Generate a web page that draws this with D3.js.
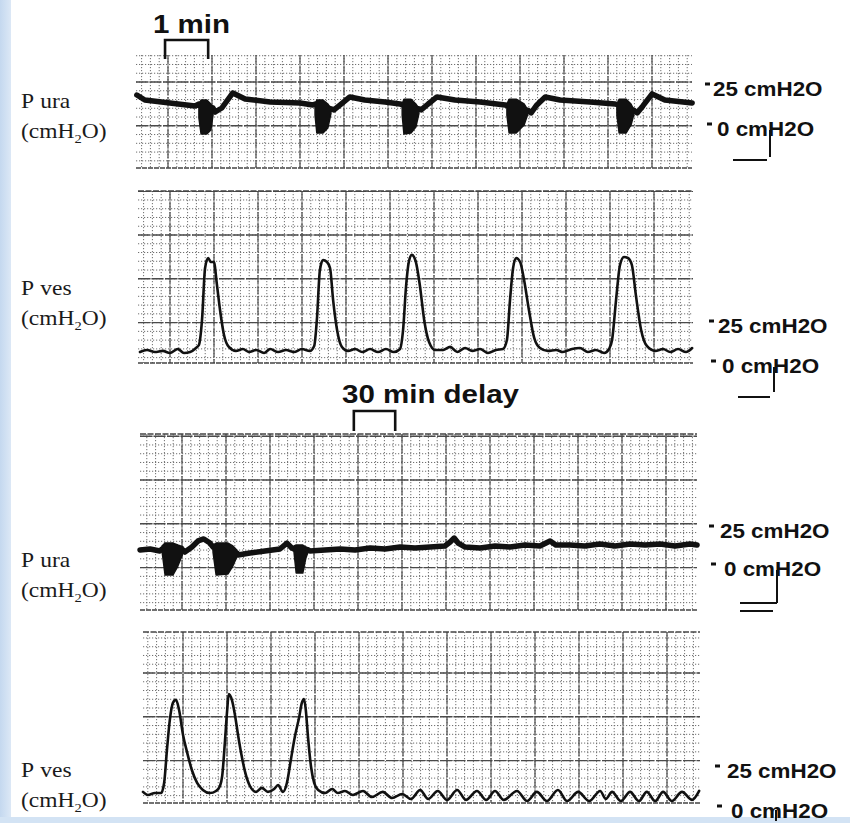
<!DOCTYPE html>
<html>
<head>
<meta charset="utf-8">
<script src="https://cdn.jsdelivr.net/npm/d3@7"></script>
<style>
  body { margin: 0; background: #fff; }
  svg { display: block; }
</style>
</head>
<body>
<svg id="chart" width="850" height="823"></svg>
<script>
// ---- traces: [minutes, cmH2O] ----
var uraTop = [[0.02,20.6],[0.20,17.5],[0.77,15.6],[1.34,13.8],[1.43,15],[1.75,12.5],[1.80,10],[1.95,12.5],
  [2.20,21.9],[2.48,18.1],[3.05,16.3],[3.73,15.6],[4.02,14.4],[4.09,15],[4.43,12],[4.50,11.3],[4.64,14.4],
  [4.86,19.4],[5.20,17.5],[5.66,16.3],[6.00,15],[6.43,12],[6.48,11.3],[6.64,15],[6.84,19.4],[7.25,17.5],
  [7.82,16.3],[8.39,14.4],[8.91,11],[8.98,9.4],[9.11,14.4],[9.30,19.4],[9.64,17.5],[10.32,16.3],[10.89,15],
  [11.32,11],[11.39,9.4],[11.52,13.8],[11.73,21.3],[12.02,17.5],[12.64,15.6]];

// noisy bursts on the urethral trace: [minutes, low, high]
var uraTopBursts = [
  [[1.43,6.3,15],[1.48,-3.8,17.5],[1.61,-3.8,17.5],[1.70,-1.3,15],[1.75,8.1,12.5]],
  [[4.07,8,14.4],[4.11,-3.1,17.5],[4.25,-3.1,17.5],[4.36,0,15],[4.43,9,12]],
  [[6.05,8,15],[6.09,-3.8,18],[6.25,-3.1,18],[6.36,0.6,15],[6.43,9,12]],
  [[8.43,8,15],[8.48,-3.1,18],[8.64,-3.1,18],[8.82,1.9,15],[8.91,9,11]],
  [[10.93,8,15],[10.98,-3.1,18],[11.14,-3.1,18],[11.25,1.9,15],[11.32,9,11]]
];

var vesTop = [[0.09,8.1],[0.25,9.4],[0.43,8.1],[0.61,8.8],[0.77,7.5],[0.95,10],[1.09,7.5],[1.23,8.1],
  [1.36,10.6],[1.43,12.5],[1.50,28],[1.57,60.6],[1.64,66.9],[1.70,64.4],[1.77,64.4],[1.84,50],[1.91,34.4],
  [2.00,18.8],[2.11,11.3],[2.27,8.8],[2.43,10],[2.57,8.1],[2.73,9.4],[2.91,7.5],[3.05,10],[3.23,8.1],
  [3.41,9.4],[3.59,8.1],[3.77,10],[3.95,8.8],[4.05,11.9],[4.11,28],[4.18,59.4],[4.25,65.6],[4.34,64.4],
  [4.41,60.6],[4.48,40.6],[4.57,21.9],[4.68,11.3],[4.82,8.8],[4.98,10],[5.14,8.1],[5.32,10],[5.50,8.1],
  [5.68,10],[5.86,8.1],[6.00,10],[6.07,21.9],[6.14,50],[6.20,64.4],[6.27,68.8],[6.36,64.4],[6.45,50],
  [6.55,28],[6.66,14.4],[6.80,9.4],[6.98,9.4],[7.14,11.3],[7.30,8.1],[7.48,10.6],[7.64,8.8],[7.82,10],
  [8.00,7.5],[8.18,9.4],[8.34,10],[8.43,15.6],[8.50,40.6],[8.57,60.6],[8.64,66.9],[8.73,64.4],[8.82,53.1],
  [8.93,34.4],[9.05,16.9],[9.18,10.6],[9.36,8.8],[9.55,9.4],[9.70,8.1],[9.91,10],[10.09,10.6],[10.27,8.1],
  [10.45,9.4],[10.64,7.5],[10.75,10],[10.82,15.6],[10.91,40.6],[11.00,62.5],[11.09,67.5],[11.18,66.9],
  [11.27,62.5],[11.36,43.8],[11.48,21.9],[11.61,11.9],[11.80,8.8],[11.98,10],[12.14,8.1],[12.32,10],
  [12.50,8.1],[12.64,10.6]];

var uraBottom = [[0,11.8],[0.23,12.5],[0.45,11.2],[0.5,12.5],[0.98,11.8],[1.02,10.5],[1.18,13.8],[1.32,17.8],
  [1.45,19.1],[1.59,16.4],[1.66,13.8],[2.20,10],[2.23,8.6],[2.5,9.9],[2.84,11.2],[3.18,12.5],[3.34,16.4],
  [3.45,13.2],[3.5,12.5],[3.82,12],[3.86,11.2],[4.20,11.8],[4.55,12.5],[4.89,11.8],[5.23,13.2],[5.57,12.5],
  [5.91,13.8],[6.25,13.2],[6.59,13.8],[6.93,14.5],[7.05,17.1],[7.14,19.7],[7.23,16.4],[7.39,13.8],
  [7.73,13.2],[8.07,14.5],[8.41,13.8],[8.75,15.1],[9.09,14.5],[9.32,17.8],[9.45,15.1],[9.77,15.1],
  [10.11,14.5],[10.45,15.8],[10.80,14.5],[11.14,15.8],[11.48,15.1],[11.82,15.8],[12.16,14.5],[12.5,15.8],
  [12.66,15.1]];

var uraBottomBursts = [
  [[0.5,11.2,14.5],[0.57,-4.6,16.4],[0.75,-4.6,16.4],[0.86,1.3,15.1],[0.98,9.9,13.8]],
  [[1.66,10.5,15.1],[1.73,-4.6,16.4],[2.0,-3.9,16.4],[2.11,1.3,14.5],[2.20,7.2,11.8]],
  [[3.5,10.5,14.5],[3.55,-3.3,15.1],[3.70,-3.3,15.1],[3.77,6.6,13.8],[3.82,10.5,13.2]]
];

var vesBottom = [[0,11.3],[0.11,9.4],[0.27,10.6],[0.41,10.6],[0.48,16.9],[0.55,39.4],[0.61,56.3],[0.68,66.9],
  [0.75,68.8],[0.82,62.5],[0.91,46.9],[1.0,36.3],[1.11,25],[1.23,16.9],[1.36,12.5],[1.52,10.6],[1.66,11.9],
  [1.75,15],[1.80,21.3],[1.86,41.9],[1.91,61.3],[1.95,72.5],[2.02,68.8],[2.09,59.4],[2.16,46.9],[2.23,35.6],
  [2.32,23.8],[2.43,15],[2.57,11.3],[2.70,13.8],[2.84,11.3],[2.98,13.1],[3.07,15.6],[3.18,11.3],[3.27,16.9],
  [3.36,31.3],[3.45,45.6],[3.55,58.1],[3.61,66.9],[3.66,69.4],[3.70,62.5],[3.75,45.6],[3.82,26.9],
  [3.89,16.9],[3.98,12.5],[4.14,10.6],[4.30,13.1],[4.43,10.6],[4.59,11.9],[4.77,9.4],[5.0,11.9],[5.20,8.1],
  [5.45,11.3],[5.66,7.5],[5.89,10],[6.09,6.9],[6.30,12.5],[6.48,6.9],[6.70,11.9],[6.91,6.3],[7.14,12.5],
  [7.34,6.3],[7.59,11.9],[7.80,6.3],[8.0,11.9],[8.20,6.3],[8.50,11.9],[8.73,5.6],[8.95,11.3],[9.18,5.6],
  [9.43,12.5],[9.64,5.6],[9.89,11.3],[10.14,5.6],[10.39,11.9],[10.52,6.9],[10.66,11.3],[10.86,5.6],
  [11.07,11.3],[11.27,5.6],[11.45,11.3],[11.64,5.6],[11.82,11.3],[12.02,5.6],[12.25,11.3],[12.48,6.3],
  [12.64,11.9]];

var scaleValues = [25, 0];
var scaleLabels = ["25 cmH2O", "0 cmH2O"];
var channelNames = ["P ura", "P ves", "P ura", "P ves"];
var unitParts = ["(cmH", "2", "O)"];
var timeMarks = ["1 min", "30 min delay"];

var PX_PER_MIN = 44;

var panels = [
  { name: channelNames[0], trace: uraTop, bursts: uraTopBursts, thick: 5.5, smooth: false,
    x0: 136, x1: 692, xLeft: 136, y0: 55, y1: 168, gridX: 168, gridY: 82, topLine: false,
    zeroY: 128, refY: 88, labelY: 108, dashX: 705, textX: 713,
    bar: { x: 770, y0: 130, y1: 157, h: [[733, 767, 160]] } },
  { name: channelNames[1], trace: vesTop, bursts: [], thick: 2.6, smooth: true,
    x0: 138, x1: 693, xLeft: 136, y0: 191, y1: 363, gridX: 170, gridY: 235, topLine: true,
    zeroY: 365, refY: 325, labelY: 295, dashX: 709, textX: 718,
    bar: { x: 774, y0: 367, y1: 392, h: [[738, 770, 397]] } },
  { name: channelNames[2], trace: uraBottom, bursts: uraBottomBursts, thick: 5.5, smooth: false,
    x0: 140, x1: 697, xLeft: 140, y0: 434, y1: 610, gridX: 182, gridY: 480, topLine: true,
    zeroY: 568, refY: 530, labelY: 567, dashX: 709, textX: 720,
    bar: { x: 777, y0: 570, y1: 603, h: [[740, 777, 603], [740, 773, 611]] } },
  { name: channelNames[3], trace: vesBottom, bursts: [], thick: 2.6, smooth: true,
    x0: 143, x1: 700, xLeft: 143, y0: 632, y1: 803, gridX: 183, gridY: 673, topLine: true,
    zeroY: 810, refY: 770, labelY: 777, dashX: 715, textX: 727,
    bar: { x: 776, y0: 810, y1: 821, h: [] } }
];

var svg = d3.select("#chart");
var defs = svg.append("defs");

svg.append("rect").attr("width", 850).attr("height", 823).attr("fill", "#fff");

// pale blue scan border
var edge = defs.append("linearGradient").attr("id", "edge").attr("x1", 0).attr("x2", 1);
edge.append("stop").attr("offset", "0%").attr("stop-color", "#c4d8ef");
edge.append("stop").attr("offset", "100%").attr("stop-color", "#dce8f6");
svg.append("rect").attr("x", 0).attr("y", 0).attr("width", 11).attr("height", 823).attr("fill", "url(#edge)");
svg.append("rect").attr("x", 0).attr("y", 817).attr("width", 850).attr("height", 6).attr("fill", "#d3e3f4");

var sansFont = "'Liberation Sans', Arial, Helvetica, sans-serif";
var serifFont = "'Liberation Serif', 'Times New Roman', serif";

panels.forEach(function(p, i) {
  var x = d3.scaleLinear().domain([0, (p.x1 - p.xLeft) / PX_PER_MIN]).range([p.xLeft, p.x1]);
  var y = d3.scaleLinear().domain([0, 25]).range([p.zeroY, p.refY]);
  p.x = x; p.y = y;

  var g = svg.append("g").attr("class", "panel");

  defs.append("clipPath").attr("id", "clip" + i)
    .append("rect").attr("x", p.x0).attr("y", p.y0)
    .attr("width", p.x1 - p.x0).attr("height", p.y1 - p.y0);

  var grid = g.append("g").attr("clip-path", "url(#clip" + i + ")");

  // chart paper: minute lines with 5 subdivisions
  var tLo = x.invert(p.x0), tHi = x.invert(p.x1), tG = x.invert(p.gridX);
  var kx = d3.range(Math.ceil((tLo - tG) / 0.2), Math.floor((tHi - tG) / 0.2) + 1);
  var minorX = kx.map(function(k) { return tG + k * 0.2; });
  var majorX = kx.filter(function(k) { return ((k % 5) + 5) % 5 === 0; })
                 .map(function(k) { return tG + k * 0.2; });

  var step = 43.8, sub = step / 5;
  var minorY = d3.range(Math.ceil((p.y0 - p.gridY) / sub), Math.floor((p.y1 - p.gridY) / sub) + 1)
                 .map(function(k) { return p.gridY + k * sub; });
  var majorY = d3.range(Math.ceil((p.y0 - p.gridY) / step), Math.floor((p.y1 - p.gridY) / step) + 1)
                 .map(function(k) { return p.gridY + k * step; });

  grid.selectAll(".minx").data(minorX).enter().append("line")
    .attr("x1", x).attr("x2", x).attr("y1", p.y0).attr("y2", p.y1)
    .attr("stroke", "#6f6f6f").attr("stroke-width", 1).attr("stroke-dasharray", "1.2,1.8");
  grid.selectAll(".miny").data(minorY).enter().append("line")
    .attr("x1", p.x0).attr("x2", p.x1).attr("y1", function(d) { return d; }).attr("y2", function(d) { return d; })
    .attr("stroke", "#6f6f6f").attr("stroke-width", 1).attr("stroke-dasharray", "1.2,1.8");
  grid.selectAll(".majx").data(majorX).enter().append("line")
    .attr("x1", x).attr("x2", x).attr("y1", p.y0).attr("y2", p.y1)
    .attr("stroke", "#4a4a4a").attr("stroke-width", 1.2).attr("stroke-dasharray", "9,1.5");
  grid.selectAll(".majy").data(majorY).enter().append("line")
    .attr("x1", p.x0).attr("x2", p.x1).attr("y1", function(d) { return d; }).attr("y2", function(d) { return d; })
    .attr("stroke", "#4a4a4a").attr("stroke-width", 1.4).attr("stroke-dasharray", "12,1.5");

  // paper edges
  g.append("line").attr("x1", p.x0).attr("x2", p.x1).attr("y1", p.y1).attr("y2", p.y1)
    .attr("stroke", "#444").attr("stroke-width", 1.6).attr("stroke-dasharray", "5,1");
  if (p.topLine) {
    g.append("line").attr("x1", p.x0).attr("x2", p.x1).attr("y1", p.y0).attr("y2", p.y0)
      .attr("stroke", "#444").attr("stroke-width", 1.6).attr("stroke-dasharray", "6,1.5");
  }

  // trace
  var line = d3.line()
    .x(function(d) { return x(d[0]); })
    .y(function(d) { return y(d[1]); })
    .curve(p.smooth ? d3.curveMonotoneX : d3.curveLinear);

  g.append("path").datum(p.trace)
    .attr("d", line)
    .attr("fill", "none")
    .attr("stroke", "#111")
    .attr("stroke-width", p.thick)
    .attr("stroke-linejoin", "round")
    .attr("stroke-linecap", "round");

  var area = d3.area()
    .x(function(d) { return x(d[0]); })
    .y0(function(d) { return y(d[1]); })
    .y1(function(d) { return y(d[2]); });

  g.selectAll(".burst").data(p.bursts).enter().append("path")
    .attr("d", area)
    .attr("fill", "#111")
    .attr("stroke", "#111")
    .attr("stroke-width", 1.5)
    .attr("stroke-linejoin", "round");

  // channel name + unit
  g.append("text")
    .attr("transform", "translate(21," + p.labelY + ") scale(1.12,1)")
    .style("font-family", serifFont).style("font-size", "21px").style("word-spacing", "1px")
    .attr("fill", "#1a1a1a")
    .text(p.name);

  var unit = g.append("text")
    .attr("transform", "translate(21," + (p.labelY + 30) + ") scale(1.12,1)")
    .style("font-family", serifFont).style("font-size", "21px")
    .attr("fill", "#1a1a1a");
  unit.append("tspan").text(unitParts[0]);
  unit.append("tspan").attr("dy", 5).style("font-size", "13px").text(unitParts[1]);
  unit.append("tspan").attr("dy", -5).text(unitParts[2]);

  // calibration labels
  scaleValues.forEach(function(v, k) {
    var yy = y(v), off = k === 0 ? 0 : 4;
    g.append("rect").attr("x", p.dashX + off / 2).attr("y", yy - 5.5)
      .attr("width", 5).attr("height", 3).attr("fill", "#111");
    g.append("text")
      .attr("transform", "translate(" + (p.textX + off) + "," + (yy + 8) + ") scale(1.12,1)")
      .style("font-family", sansFont).style("font-size", "20px").style("font-weight", "bold")
      .attr("fill", "#111")
      .text(scaleLabels[k]);
  });

  // pen calibration marks
  g.append("line").attr("x1", p.bar.x).attr("x2", p.bar.x).attr("y1", p.bar.y0).attr("y2", p.bar.y1)
    .attr("stroke", "#111").attr("stroke-width", 2);
  p.bar.h.forEach(function(h) {
    g.append("line").attr("x1", h[0]).attr("x2", h[1]).attr("y1", h[2]).attr("y2", h[2])
      .attr("stroke", "#111").attr("stroke-width", 2);
  });
});

// time brackets
function bracket(xs, a, b, top, bottom) {
  svg.append("path")
    .attr("d", "M" + xs(a) + "," + bottom + "V" + top + "H" + xs(b) + "V" + bottom)
    .attr("fill", "none").attr("stroke", "#111").attr("stroke-width", 2.6);
}
bracket(panels[0].x, 0.66, 1.64, 40, 59);
bracket(panels[2].x, 4.86, 5.80, 411, 431);

svg.append("text")
  .attr("transform", "translate(153,33) scale(1.18,1)")
  .style("font-family", sansFont).style("font-size", "25px").style("font-weight", "bold")
  .attr("fill", "#111").text(timeMarks[0]);
svg.append("text")
  .attr("transform", "translate(342,403) scale(1.18,1)")
  .style("font-family", sansFont).style("font-size", "25px").style("font-weight", "bold")
  .attr("fill", "#111").text(timeMarks[1]);
</script>
</body>
</html>
